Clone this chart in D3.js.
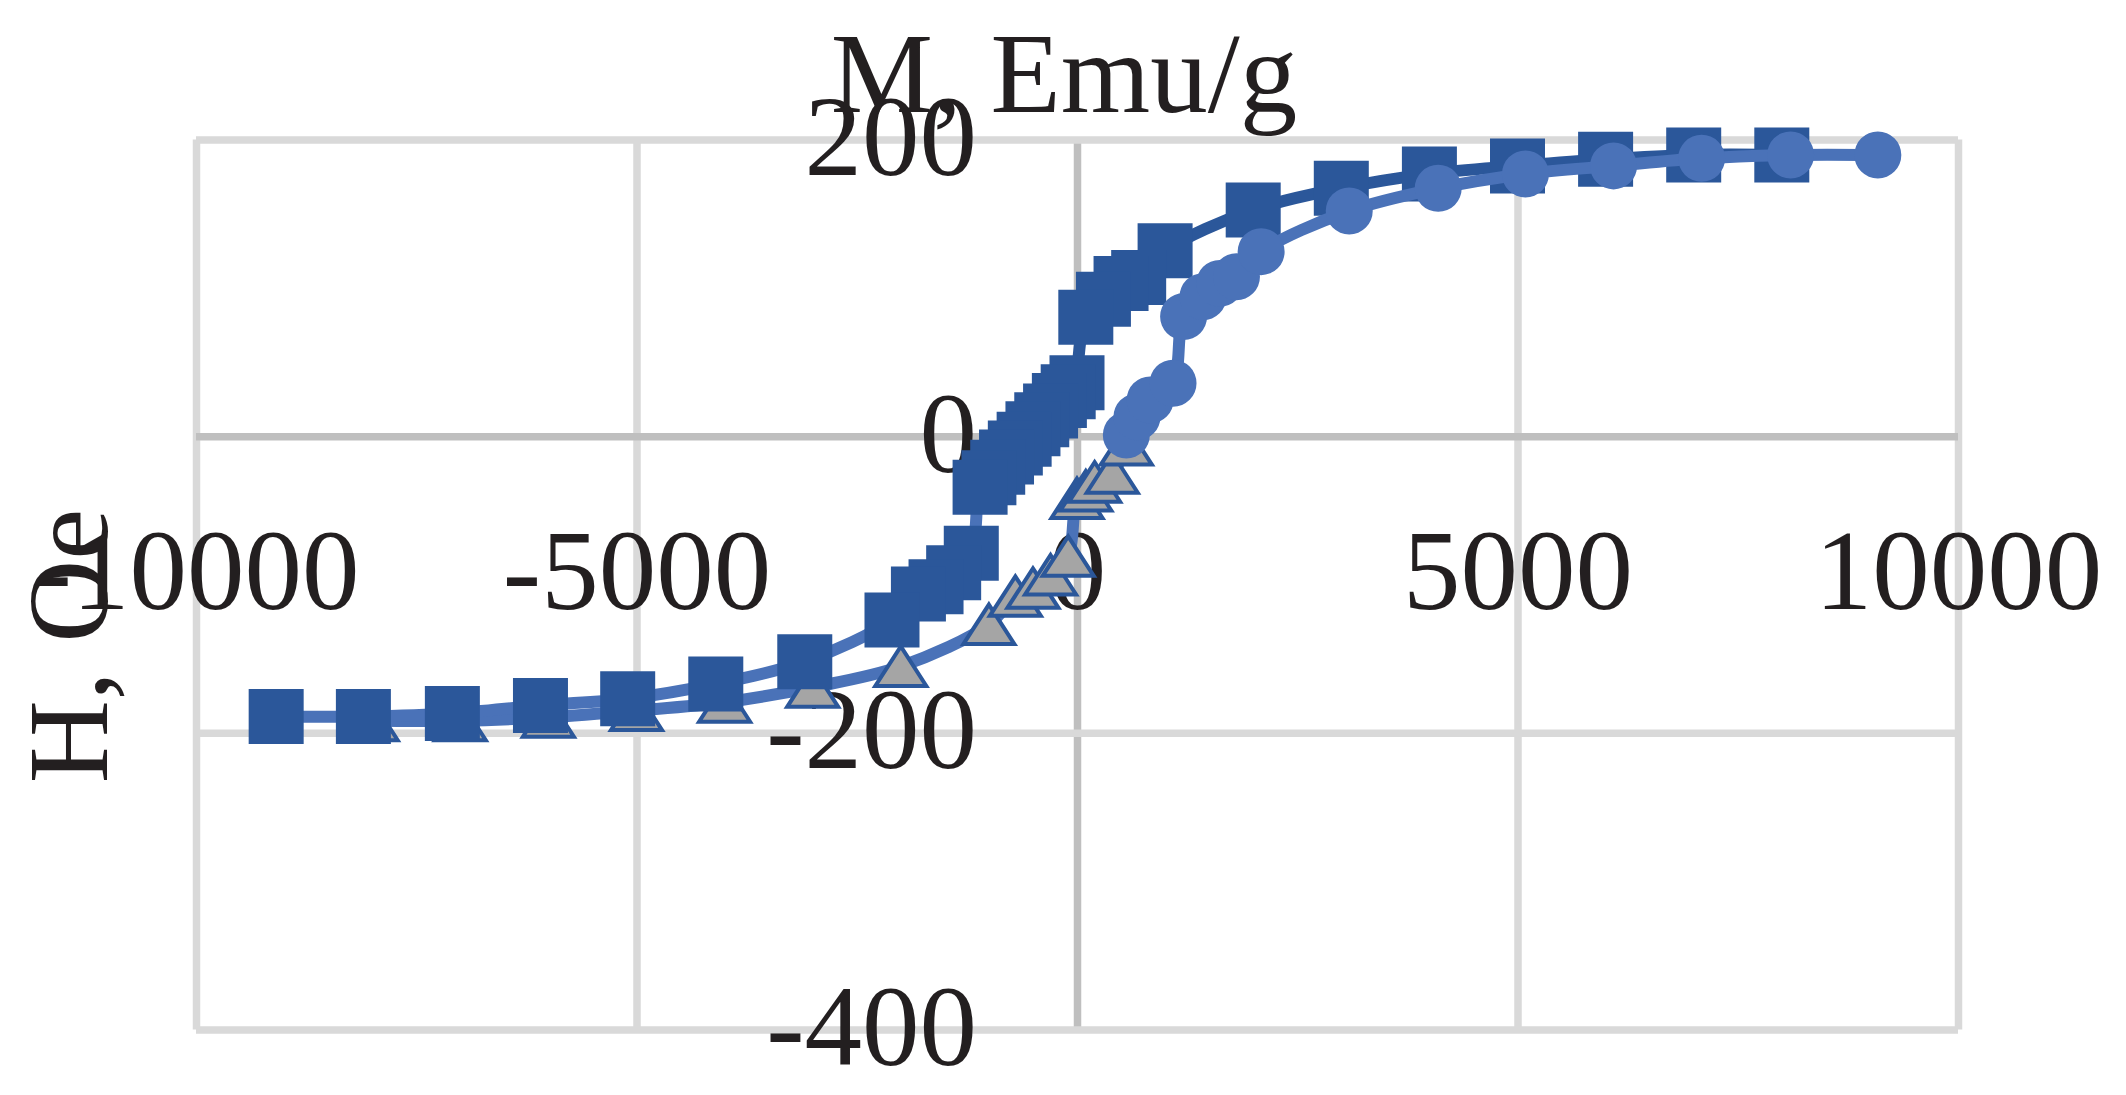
<!DOCTYPE html>
<html><head><meta charset="utf-8">
<script src="https://cdn.jsdelivr.net/npm/d3@7"></script>
<style>
html,body{margin:0;padding:0;background:#fff;}
svg{display:block;}
text{font-family:"Liberation Serif","Times New Roman",serif;fill:#231f20;}
</style>
</head><body>
<svg id="chart" width="2126" height="1095"></svg>
<script>
// ---- data ----
const xTicks = [-10000, -5000, 0, 5000, 10000];
const yTicks = [200, 0, -200, -400];
const xTickLabels = ["-10000", "-5000", "0", "5000", "10000"];
const yTickLabels = ["200", "0", "-200", "-400"];
const xTitle = "M, Emu/g";
const yTitle = "H, Oe";

// squares, upper (descending) part
const sqUpperH = [8000, 7000, 6000, 5000, 4000, 3000, 2000, 1000, 700, 500, 300, 100, 0];
const sqUpperM = [189.6, 189.6, 186.7, 182.2, 176.8, 167.1, 152.5, 125, 107, 103, 92.3, 80.2, 36];
// squares, lower part
const sqLowerH = [0, -100, -200, -300, -400, -500, -600, -700, -800, -900, -1000, -1100, -1200, -1400, -1600, -1800, -2100, -3090, -4100, -5100, -6090, -7090, -8100, -9090];
const sqLowerM = [36, 30, 24, 17, 11, 5, -2, -8, -14, -21, -28, -34.5, -79, -92, -101.5, -106.4, -124, -152, -167, -177, -181.5, -187, -189, -189];
// triangles
const triH = [-8000, -7000, -6000, -5000, -4000, -3000, -2000, -1000, -700, -500, -300, -100, 0, 100, 200, 400, 560];
const triM = [-191.8, -191.8, -189.5, -185, -179.4, -169.3, -155.2, -127, -108, -102.6, -93.6, -81, -42, -37, -31, -25, -6];
// circles
const cirH = [560, 680, 830, 1090, 1210, 1430, 1620, 1810, 2090, 3090, 4100, 5090, 6090, 7090, 8100, 9090];
const cirM = [0.8, 13, 24.4, 35.7, 80.6, 94, 103, 107.5, 124.4, 151.8, 167.1, 176.8, 182.2, 187.3, 189.6, 189.6];

// ---- drawing ----
const svg = d3.select("#chart");
const x = d3.scaleLinear().domain([-10000, 10000]).range([196, 1958]);
const y = d3.scaleLinear().domain([-400, 200]).range([1029.5, 139.5]);
const FS = 115;
const dark = "#2b579a", light = "#4a72b8";
const fontFam = "Liberation Serif, Times New Roman, serif";

// grid lines
const gx = svg.append("g").attr("transform", `translate(0,${y(-400)})`)
  .call(d3.axisBottom(x).tickValues(xTicks).tickSize(-(y(-400) - y(200))).tickFormat(""));
gx.select(".domain").remove();
gx.selectAll(".tick line").attr("stroke", d => d === 0 ? "#bfbfbf" : "#d9d9d9").attr("stroke-width", 7.5);
const gy = svg.append("g").attr("transform", `translate(${x(-10000)},0)`)
  .call(d3.axisLeft(y).tickValues(yTicks).tickSize(-(x(10000) - x(-10000))).tickFormat(""));
gy.select(".domain").remove();
gy.selectAll(".tick line").attr("stroke", d => d === 0 ? "#bfbfbf" : "#d9d9d9").attr("stroke-width", 7.5);

// tick labels
const ly = svg.append("g").attr("transform", `translate(${x(0)},0)`)
  .call(d3.axisLeft(y).tickValues(yTicks).tickSize(0).tickPadding(100)
    .tickFormat((d, i) => yTickLabels[i]));
ly.select(".domain").remove();
ly.selectAll("text").attr("font-size", FS).attr("fill", "#231f20")
  .attr("font-family", fontFam).attr("dy", "0.305em");
const lx = svg.append("g").attr("transform", `translate(0,${y(0)})`)
  .call(d3.axisBottom(x).tickValues(xTicks).tickSize(0).tickPadding(91)
    .tickFormat((d, i) => xTickLabels[i]));
lx.select(".domain").remove();
lx.selectAll("text").attr("font-size", FS).attr("fill", "#231f20")
  .attr("font-family", fontFam);

// titles
svg.append("text").attr("x", 1064).attr("y", 112).attr("text-anchor", "middle")
  .attr("font-size", FS).text(xTitle);
svg.append("text").attr("transform", "translate(107,646) rotate(-90)").attr("text-anchor", "middle")
  .attr("font-size", FS).text(yTitle);

// helpers
const zip = (a, b) => a.map((v, i) => [v, b[i]]);
const line = d3.line().x(d => x(d[0])).y(d => y(d[1])).curve(d3.curveCatmullRom.alpha(0.5));
const sqUpper = zip(sqUpperH, sqUpperM);
const sqLower = zip(sqLowerH, sqLowerM);
const tri = zip(triH, triM);
const cir = zip(cirH, cirM);
const triPath = "M0,-20L25.5,19.5L-25.5,19.5Z";

// triangles series
svg.append("path").attr("d", line(tri)).attr("fill", "none").attr("stroke", light).attr("stroke-width", 12);
svg.append("g").selectAll("path").data(tri).join("path")
  .attr("transform", d => `translate(${x(d[0])},${y(d[1])})`)
  .attr("d", triPath).attr("fill", "#a5a5a5").attr("stroke", dark).attr("stroke-width", 4);

// squares series
svg.append("path").attr("d", line(sqLower)).attr("fill", "none").attr("stroke", light).attr("stroke-width", 12);
svg.append("path").attr("d", line(sqUpper)).attr("fill", "none").attr("stroke", dark).attr("stroke-width", 12);
const sqSym = d3.symbol().type(d3.symbolSquare).size(55 * 55);
svg.append("g").selectAll("path").data(sqUpper.concat(sqLower.slice(1))).join("path")
  .attr("transform", d => `translate(${x(d[0])},${y(d[1])})`)
  .attr("d", sqSym()).attr("fill", dark);

// circles series
svg.append("path").attr("d", line(cir)).attr("fill", "none").attr("stroke", light).attr("stroke-width", 12);
const cSym = d3.symbol().type(d3.symbolCircle).size(Math.PI * 23.5 * 23.5);
svg.append("g").selectAll("path").data(cir).join("path")
  .attr("transform", d => `translate(${x(d[0])},${y(d[1])})`)
  .attr("d", cSym()).attr("fill", light);
</script>
</body></html>
